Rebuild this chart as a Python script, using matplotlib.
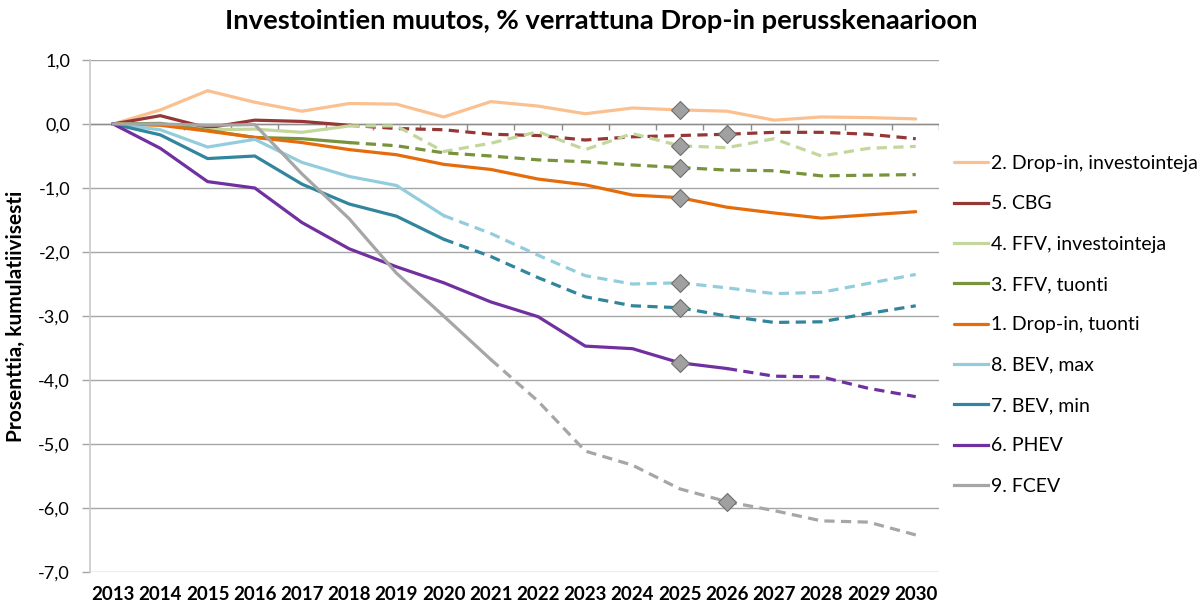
import numpy as np
import matplotlib.pyplot as plt
import matplotlib.transforms as mtransforms

plt.rcParams['font.family'] = ['Lato', 'DejaVu Sans']

years = list(range(2013, 2031))

# series values, % change vs. drop-in base scenario (cumulative)
dropin_inv = [0, 0.22, 0.52, 0.34, 0.20, 0.32, 0.31, 0.11, 0.35, 0.28, 0.16, 0.25, 0.22, 0.20, 0.06, 0.11, 0.10, 0.08]
cbg = [0, 0.13, -0.06, 0.06, 0.04, -0.02, -0.07, -0.09, -0.16, -0.18, -0.25, -0.20, -0.18, -0.16, -0.13, -0.13, -0.16, -0.23]
ffv_inv = [0, 0.0, -0.09, -0.08, -0.13, -0.03, -0.03, -0.43, -0.30, -0.12, -0.40, -0.15, -0.34, -0.37, -0.23, -0.50, -0.38, -0.35]
ffv_tuonti = [0, 0.01, -0.10, -0.21, -0.23, -0.29, -0.34, -0.45, -0.50, -0.56, -0.59, -0.64, -0.68, -0.72, -0.73, -0.81, -0.80, -0.79]
dropin_tuonti = [0, -0.02, -0.11, -0.21, -0.29, -0.40, -0.48, -0.63, -0.71, -0.86, -0.95, -1.11, -1.15, -1.30, -1.39, -1.47, -1.42, -1.37]
bev_max = [0, -0.09, -0.36, -0.24, -0.60, -0.82, -0.96, -1.43, -1.71, -2.05, -2.37, -2.50, -2.48, -2.56, -2.65, -2.63, -2.49, -2.35]
bev_min = [0, -0.17, -0.54, -0.50, -0.94, -1.25, -1.44, -1.80, -2.07, -2.40, -2.70, -2.84, -2.87, -3.00, -3.10, -3.09, -2.96, -2.84]
phev = [0, -0.38, -0.90, -1.00, -1.54, -1.95, -2.23, -2.48, -2.78, -3.01, -3.47, -3.51, -3.73, -3.82, -3.94, -3.95, -4.13, -4.26]
fcev = [0, 0.0, -0.02, -0.01, -0.78, -1.48, -2.33, -3.00, -3.68, -4.33, -5.11, -5.33, -5.70, -5.90, -6.04, -6.20, -6.22, -6.42]

labels = ['2. Drop-in, investointeja', '5. CBG', '4. FFV, investointeja', '3. FFV, tuonti',
          '1. Drop-in, tuonti', '8. BEV, max', '7. BEV, min', '6. PHEV', '9. FCEV']
values = [dropin_inv, cbg, ffv_inv, ffv_tuonti, dropin_tuonti, bev_max, bev_min, phev, fcev]
# last year drawn as a solid line (dashed after), None = solid all the way
solid_until = [None, 2018, 2018, 2018, None, 2020, 2020, 2026, 2021]
# year of the diamond marker
marker_year = [2025, 2026, 2025, 2025, 2025, 2025, 2025, 2025, 2026]

colors = ['#FAC090', '#953735', '#C3D69B', '#77933C', '#E46C0A',
          '#93CDDD', '#31859C', '#7030A0', '#A6A6A6']

fig = plt.figure(figsize=(12.02, 6.06), dpi=100)
ax = fig.add_axes([0.0745, 0.056, 0.707, 0.845])

lw = 2.3
handles = []
for lab, vals, su, my, c in zip(labels, values, solid_until, marker_year, colors):
    vals = np.array(vals)
    yrs = np.array(years)
    if su is None:
        h, = ax.plot(yrs, vals, color=c, lw=lw, solid_capstyle='round', label=lab)
    else:
        k = years.index(su)
        h, = ax.plot(yrs[:k + 1], vals[:k + 1], color=c, lw=lw, label=lab)
        ax.plot(yrs[k:], vals[k:], color=c, lw=lw, dashes=(3.2, 2.0))
    handles.append(h)
    i = years.index(my)
    ax.plot([yrs[i]], [vals[i]], marker='D', ms=9, mfc='#A0A0A0', mec='#6E6E6E',
            mew=0.8, zorder=5)

ax.set_xlim(years[0] - 0.5, years[-1] + 0.5)
ax.set_ylim(-7, 1)
ax.set_yticks(np.arange(-7, 1.01, 1))
ax.set_yticklabels([f'{v:.1f}'.replace('.', ',') for v in np.arange(-7, 1.01, 1)])
ax.set_xticks(years)
ax.set_xticklabels([str(y) for y in years], fontweight='bold')
ax.tick_params(axis='x', length=0, pad=10, labelsize=13.5)
ax.tick_params(axis='y', length=6, color='#A6A6A6', width=1, pad=8, labelsize=13)
ax.grid(axis='y', color='#A6A6A6', lw=1)
ax.set_axisbelow(True)
for s in ['top', 'right', 'bottom']:
    ax.spines[s].set_visible(False)
ax.spines['left'].set_color('#C8C8C8')
ax.spines['left'].set_linewidth(1.2)

# horizontal category axis at zero with small tick marks between categories
ax.axhline(0, color='#8C8C8C', lw=1, zorder=1)
trans = mtransforms.blended_transform_factory(ax.transData, ax.transAxes)
bounds = np.array(years[:-1]) + 0.5
ax.vlines(np.append(bounds, years[-1] + 0.5), 7 / 8 - 0.012, 7 / 8, transform=trans,
          color='#8C8C8C', lw=1, zorder=1)

ax.set_ylabel('Prosenttia, kumulatiivisesti', fontsize=15, fontweight='bold', labelpad=9)
fig.suptitle('Investointien muutos, % verrattuna Drop-in perusskenaarioon',
             fontsize=19.7, fontweight='bold', x=0.5, y=0.985)

leg = fig.legend(handles=handles, loc='upper left', bbox_to_anchor=(0.787, 0.757),
                 frameon=False, fontsize=14, handlelength=1.75, handletextpad=0.15,
                 labelspacing=1.2, borderaxespad=0)
for line in leg.get_lines():
    line.set_linewidth(2.3)
    line.set_linestyle('-')

fig.savefig('out.png', dpi=100)
